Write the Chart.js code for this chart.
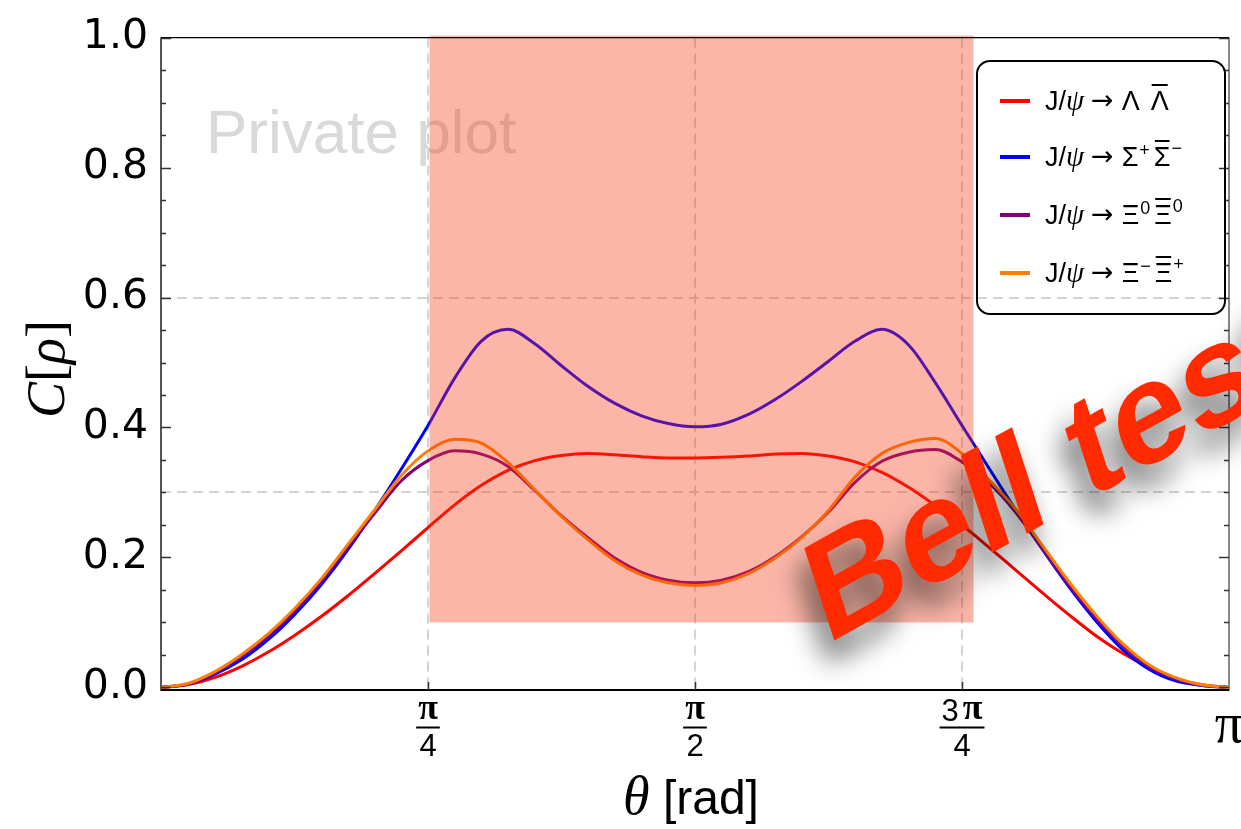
<!DOCTYPE html>
<html>
<head>
<meta charset="utf-8">
<script src="https://cdn.jsdelivr.net/npm/chart.js@4.4.1/dist/chart.umd.min.js"></script>
<style>
  html, body { margin: 0; padding: 0; background: #fff; }
</style>
</head>
<body>
<canvas id="myChart" width="1241" height="829"></canvas>
<script>
// theta grid, in units of pi
var thetaOverPi = [0, 0.025, 0.05, 0.075, 0.1, 0.125, 0.15, 0.175, 0.2, 0.225,
  0.25, 0.275, 0.3, 0.325, 0.35, 0.375, 0.4, 0.425, 0.45, 0.475,
  0.5, 0.525, 0.55, 0.575, 0.6, 0.625, 0.65, 0.675, 0.7, 0.725,
  0.75, 0.775, 0.8, 0.825, 0.85, 0.875, 0.9, 0.925, 0.95, 0.975, 1];

var lambdaC = [0, .004, .015, .032, .054, .080, .109, .141, .175, .210,
  .246, .281, .311, .334, .349, .357, .360, .358, .355, .353,
  .353, .354, .356, .359, .360, .356, .347, .331, .308, .280,
  .250, .216, .181, .146, .112, .080, .053, .031, .014, .004, 0];

var sigmaC = [0, .005, .020, .042, .073, .112, .158, .212, .272, .336,
  .403, .476, .533, .551, .529, .495, .463, .437, .418, .406,
  .401, .405, .420, .443, .471, .502, .533, .551, .527, .469,
  .403, .338, .274, .213, .155, .103, .059, .028, .010, .003, 0];

var xi0C = [0, .005, .022, .047, .078, .117, .163, .216, .268, .318,
  .349, .364, .359, .340, .303, .264, .230, .199, .177, .165,
  .161, .165, .178, .201, .232, .270, .316, .348, .362, .366,
  .347, .315, .270, .214, .158, .108, .065, .032, .013, .003, 0];

var ximC = [0, .006, .024, .050, .082, .121, .167, .220, .273, .326,
  .364, .382, .376, .346, .304, .263, .227, .195, .173, .161,
  .157, .161, .175, .199, .231, .272, .324, .360, .377, .383,
  .360, .320, .275, .219, .163, .112, .068, .035, .015, .004, 0];

var seriesColors = ['#ff0000', '#0000ff', '#800080', '#ff8000'];
// legend text parts: J/psi -> baryon^charge  antibaryon^anticharge
var baryons = ['Λ', 'Σ', 'Ξ', 'Ξ'];
var charges = ['', '+', '0', '−'];
var antiCharges = ['', '−', '0', '+'];

var yTickValues = [0, 0.2, 0.4, 0.6, 0.8, 1.0];
var yMinorTicks = [0.05, 0.1, 0.15, 0.25, 0.3, 0.35, 0.45, 0.5, 0.55, 0.65, 0.7, 0.75, 0.85, 0.9, 0.95];
var xTickTheta = [0.25, 0.5, 0.75, 1];   // in units of pi
var xTickCoef = ['', '', '3', ''];
var xTickDen = ['4', '2', '4', ''];
var gridTheta = [0.25, 0.5, 0.75];
var gridC = [0.3, 0.6];
var shadeTheta = [0.79, 2.39];           // rad
var shadeC = [0.1, 1.0];

var sans = '"Liberation Sans", Arial, Helvetica, sans-serif';
var wide = '"DejaVu Sans", Verdana, sans-serif';
var serif = '"Liberation Serif", "Times New Roman", serif';

function pts(vals) {
  var out = [];
  for (var i = 0; i < thetaOverPi.length; i++) {
    out.push({ x: thetaOverPi[i] * Math.PI, y: vals[i] });
  }
  return out;
}

var decor = {
  id: 'decor',
  beforeDatasetsDraw: function (chart) {
    var ctx = chart.ctx, a = chart.chartArea;
    var xs = chart.scales.x, ys = chart.scales.y;
    ctx.save();
    ctx.font = '62px ' + sans;
    ctx.fillStyle = '#d9d9d9';
    ctx.textBaseline = 'alphabetic';
    ctx.textAlign = 'left';
    ctx.fillText('Private plot', 206, 153);

    ctx.strokeStyle = '#d4d4d4';
    ctx.lineWidth = 2;
    ctx.setLineDash([10, 6]);
    gridTheta.forEach(function (t) {
      var px = Math.round(xs.getPixelForValue(t * Math.PI));
      ctx.beginPath(); ctx.moveTo(px, a.top); ctx.lineTo(px, a.bottom); ctx.stroke();
    });
    gridC.forEach(function (c) {
      var py = Math.round(ys.getPixelForValue(c));
      ctx.beginPath(); ctx.moveTo(a.left, py); ctx.lineTo(a.right, py); ctx.stroke();
    });
    ctx.restore();
  },
  afterDatasetsDraw: function (chart) {
    var ctx = chart.ctx, a = chart.chartArea;
    var xs = chart.scales.x, ys = chart.scales.y;
    ctx.save();

    // shaded Bell-test band, over the curves
    var x0 = xs.getPixelForValue(shadeTheta[0]), x1 = xs.getPixelForValue(shadeTheta[1]);
    var y0 = ys.getPixelForValue(shadeC[0]), y1 = ys.getPixelForValue(shadeC[1]);
    ctx.fillStyle = 'rgba(243, 52, 14, 0.36)';
    ctx.fillRect(x0, y1 - 2, x1 - x0, y0 - y1 + 2);

    // frame
    ctx.lineWidth = 2;
    ctx.strokeStyle = '#555';
    ctx.beginPath(); ctx.moveTo(a.left, a.top); ctx.lineTo(a.left, a.bottom + 1); ctx.stroke();
    ctx.strokeStyle = '#888';
    ctx.beginPath(); ctx.moveTo(a.right, a.top); ctx.lineTo(a.right, a.bottom + 1); ctx.stroke();
    ctx.strokeStyle = '#000';
    ctx.beginPath(); ctx.moveTo(a.left, a.bottom); ctx.lineTo(a.right, a.bottom); ctx.stroke();
    ctx.lineWidth = 1.2;
    ctx.beginPath(); ctx.moveTo(a.left, a.top); ctx.lineTo(a.right, a.top); ctx.stroke();

    // inward ticks
    ctx.lineWidth = 1.5;
    ctx.strokeStyle = '#333';
    function yTick(v, len) {
      var py = Math.round(ys.getPixelForValue(v)) + 0.5;
      ctx.beginPath();
      ctx.moveTo(a.left, py); ctx.lineTo(a.left + len, py);
      ctx.moveTo(a.right, py); ctx.lineTo(a.right - len, py);
      ctx.stroke();
    }
    yTickValues.forEach(function (v) { yTick(v, 10); });
    yMinorTicks.forEach(function (v) { yTick(v, 5); });
    gridTheta.forEach(function (t) {
      var px = Math.round(xs.getPixelForValue(t * Math.PI)) + 0.5;
      ctx.beginPath(); ctx.moveTo(px, a.bottom); ctx.lineTo(px, a.bottom - 8); ctx.stroke();
    });

    // x tick labels as fractions of pi
    ctx.fillStyle = '#000';
    ctx.strokeStyle = '#000';
    ctx.textBaseline = 'middle';
    for (var i = 0; i < xTickTheta.length; i++) {
      var cx = xs.getPixelForValue(xTickTheta[i] * Math.PI);
      if (xTickDen[i] === '') {
        ctx.font = '56px ' + serif;
        ctx.textAlign = 'center';
        ctx.fillText('π', cx, 727);
        continue;
      }
      ctx.font = 'bold 36px ' + serif;
      var piW = ctx.measureText('π').width;
      ctx.font = '31px ' + sans;
      var coefW = xTickCoef[i] ? ctx.measureText(xTickCoef[i]).width + 4 : 0;
      var numW = coefW + piW;
      ctx.textAlign = 'left';
      if (xTickCoef[i]) ctx.fillText(xTickCoef[i], cx - numW / 2, 712);
      ctx.font = 'bold 36px ' + serif;
      ctx.fillText('π', cx - numW / 2 + coefW, 710);
      ctx.font = '31px ' + sans;
      var denW = ctx.measureText(xTickDen[i]).width;
      var barW = Math.max(numW, denW) + 4;
      ctx.lineWidth = 2;
      ctx.beginPath(); ctx.moveTo(cx - barW / 2, 727.5); ctx.lineTo(cx + barW / 2, 727.5); ctx.stroke();
      ctx.textAlign = 'center';
      ctx.fillText(xTickDen[i], cx, 747);
    }

    // x axis title
    ctx.textBaseline = 'alphabetic';
    ctx.textAlign = 'left';
    ctx.font = 'italic 54px ' + serif;
    var thW = ctx.measureText('θ').width;
    ctx.font = '48px ' + sans;
    var radW = ctx.measureText(' [rad]').width;
    var tx = (a.left + a.right) / 2 - (thW + radW) / 2 - 4;
    ctx.font = 'italic 54px ' + serif;
    ctx.fillText('θ', tx, 814);
    ctx.font = '48px ' + sans;
    ctx.fillText(' [rad]', tx + thW, 814);

    // y axis title
    ctx.save();
    ctx.translate(64, 369);
    ctx.rotate(-Math.PI / 2);
    var parts = [['C', 'italic 54px ' + serif], ['[', '54px ' + serif], ['ρ', 'italic 54px ' + serif], [']', '54px ' + serif]];
    var tot = 0;
    parts.forEach(function (p) { ctx.font = p[1]; tot += ctx.measureText(p[0]).width; });
    var px0 = -tot / 2;
    parts.forEach(function (p) { ctx.font = p[1]; ctx.fillText(p[0], px0, 0); px0 += ctx.measureText(p[0]).width; });
    ctx.restore();

    // legend
    var lx = 977, ly = 61, lw = 248, lh = 253;
    ctx.lineWidth = 2;
    ctx.strokeStyle = '#000';
    ctx.beginPath();
    ctx.roundRect(lx, ly, lw, lh, 13);
    ctx.stroke();
    var rowY = [101, 157, 215, 273];
    chart.data.datasets.forEach(function (ds, k) {
      var ry = rowY[k];
      ctx.strokeStyle = ds.borderColor;
      ctx.lineWidth = 4;
      ctx.beginPath(); ctx.moveTo(1000, ry); ctx.lineTo(1030, ry); ctx.stroke();
      ctx.fillStyle = '#000';
      ctx.strokeStyle = '#000';
      ctx.textBaseline = 'alphabetic';
      ctx.textAlign = 'left';
      var base = ry + 9;
      var x = 1045;
      ctx.font = '27px ' + sans;
      ctx.fillText('J/', x, base);
      x += ctx.measureText('J/').width;
      ctx.font = 'italic 29px ' + serif;
      ctx.fillText('ψ', x, base);
      x += ctx.measureText('ψ').width + 7;
      ctx.font = '27px ' + wide;
      ctx.fillText('→', x, base - 1);
      x += ctx.measureText('→').width + 8;
      ctx.font = '27px ' + sans;
      ctx.fillText(baryons[k], x, base);
      x += ctx.measureText(baryons[k]).width;
      ctx.font = '18px ' + sans;
      if (charges[k]) {
        ctx.fillText(charges[k], x + 1, base - 10);
        x += ctx.measureText(charges[k]).width + 5;
      } else {
        x += 11;
      }
      ctx.font = '27px ' + sans;
      var bw = ctx.measureText(baryons[k]).width;
      ctx.fillText(baryons[k], x, base);
      ctx.lineWidth = 2;
      ctx.beginPath(); ctx.moveTo(x + 1, base - 25); ctx.lineTo(x + bw - 1, base - 25); ctx.stroke();
      x += bw;
      if (antiCharges[k]) {
        ctx.font = '18px ' + sans;
        ctx.fillText(antiCharges[k], x + 1, base - 12);
      }
    });

    // Bell test stamp
    ctx.save();
    ctx.beginPath(); ctx.rect(0, 0, chart.width, chart.height); ctx.clip();
    ctx.translate(826, 645);
    ctx.transform(0.875, -0.485, 0.309, 0.951, 0, 0);
    ctx.shadowColor = 'rgba(0,0,0,0.6)';
    ctx.shadowBlur = 28;
    ctx.shadowOffsetX = -6;
    ctx.shadowOffsetY = 22;
    ctx.fillStyle = '#ff2a00';
    ctx.font = 'bold 141px ' + sans;
    ctx.textAlign = 'left';
    ctx.textBaseline = 'alphabetic';
    ctx.fillText('Bell test', 0, 0);
    ctx.restore();

    ctx.restore();
  }
};

var labels = ['J/ψ → ΛΛ̄', 'J/ψ → Σ⁺Σ̄⁻', 'J/ψ → Ξ⁰Ξ̄⁰', 'J/ψ → Ξ⁻Ξ̄⁺'];
var allSeries = [lambdaC, sigmaC, xi0C, ximC];
var datasets = allSeries.map(function (s, i) {
  return {
    label: labels[i],
    data: pts(s),
    borderColor: seriesColors[i],
    borderWidth: 3,
    pointRadius: 0,
    fill: false,
    cubicInterpolationMode: 'monotone',
    order: 4 - i
  };
});

window.Line = new Chart(document.getElementById('myChart').getContext('2d'), {
  type: 'line',
  data: { datasets: datasets },
  options: {
    responsive: false,
    animation: false,
    devicePixelRatio: 1,
    layout: { padding: { top: 35, right: 12, left: 0, bottom: 0 } },
    plugins: { legend: { display: false }, tooltip: { enabled: false } },
    scales: {
      x: {
        type: 'linear',
        min: 0,
        max: Math.PI,
        grid: { display: false },
        border: { display: false },
        ticks: { display: false },
        afterFit: function (s) { s.height = 139; }
      },
      y: {
        min: -0.004,
        max: 1.0,
        grid: { display: false, drawTicks: false },
        border: { display: false },
        afterBuildTicks: function (s) { s.ticks = yTickValues.map(function (v) { return { value: v }; }); },
        ticks: {
          color: '#000',
          padding: 13,
          font: { family: wide, size: 41 },
          callback: function (v) { return Number(v).toFixed(1); }
        },
        afterFit: function (s) { s.width = 161; }
      }
    }
  },
  plugins: [decor]
});
</script>
</body>
</html>
